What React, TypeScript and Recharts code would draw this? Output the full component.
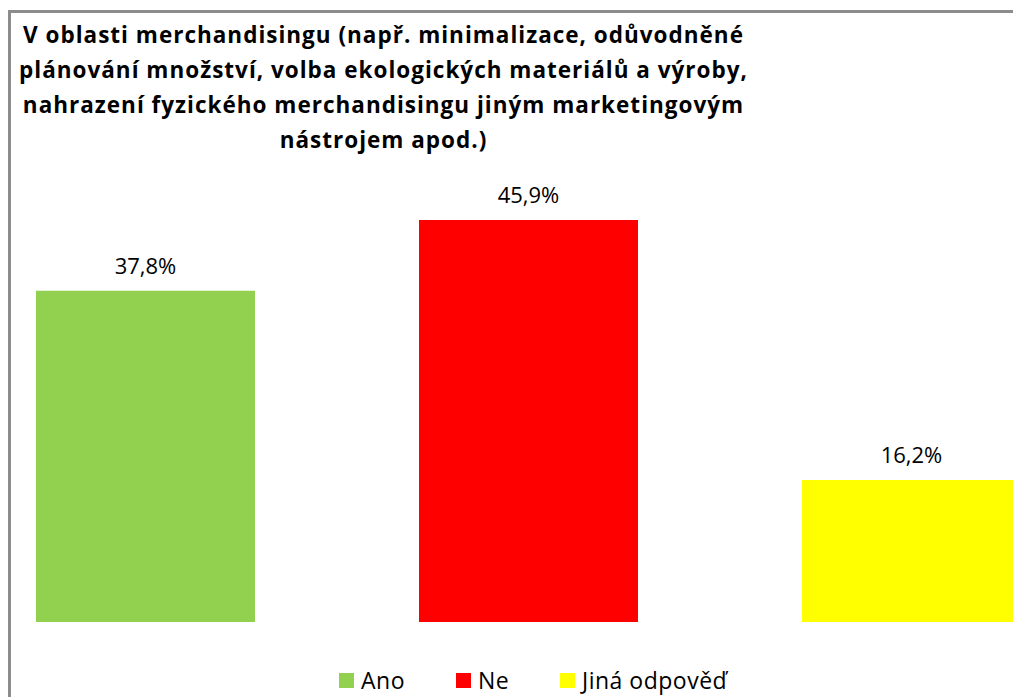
import { Bar, BarChart, Cell, LabelList, XAxis, YAxis } from "recharts";

const categories = ["Ano", "Ne", "Jiná odpověď"];
const shares = [37.8, 45.9, 16.2];
const colors = ["#92d050", "#ff0000", "#ffff00"];
const titleLines = [
  "V oblasti merchandisingu (např. minimalizace, odůvodněné",
  "plánování množství, volba ekologických materiálů a výroby,",
  "nahrazení fyzického merchandisingu jiným marketingovým",
  "nástrojem apod.)",
];

const data = categories.map((name, i) => ({ name, value: shares[i] }));

const font = "'Open Sans', 'Noto Sans', sans-serif";

export default function App() {
  return (
    <div
      style={{
        position: "fixed",
        left: 0,
        top: 0,
        width: 1013,
        height: 697,
        overflow: "hidden",
        background: "#fff",
        fontFamily: font,
      }}
    >
      <div
        style={{
          position: "absolute",
          left: 8,
          top: 10,
          width: 1200,
          height: 900,
          border: "3px solid #8c8c8c",
        }}
      />
      <div
        style={{
          position: "absolute",
          left: 0,
          top: 17,
          width: 767,
          textAlign: "center",
          fontWeight: 700,
          fontSize: 22.5,
          letterSpacing: 1,
          lineHeight: "35px",
          color: "#000",
          whiteSpace: "nowrap",
        }}
      >
        {titleLines.map((line) => (
          <div key={line}>{line}</div>
        ))}
      </div>
      <div style={{ position: "absolute", left: -46, top: 134 }}>
        <BarChart
          width={1149}
          height={488}
          data={data}
          margin={{ top: 50, right: 0, bottom: 0, left: 0 }}
          barCategoryGap={0}
        >
          <XAxis dataKey="name" hide />
          <YAxis hide domain={[0, 50]} />
          <Bar dataKey="value" barSize={219} isAnimationActive={false}>
            {data.map((d, i) => (
              <Cell key={d.name} fill={colors[i]} />
            ))}
            <LabelList
              dataKey="value"
              position="top"
              offset={17}
              formatter={(v: number) => v.toFixed(1).replace(".", ",") + "%"}
              style={{ fontFamily: font, fontSize: 22, fill: "#000" }}
            />
          </Bar>
        </BarChart>
      </div>
      {categories.map((name, i) => (
        <div
          key={name}
          style={{
            position: "absolute",
            left: [339, 456, 560][i],
            top: 664,
            height: 32,
            display: "flex",
            alignItems: "center",
            fontSize: 23,
            letterSpacing: 0.5,
            color: "#000",
            whiteSpace: "nowrap",
          }}
        >
          <span style={{ width: 15, height: 15, background: colors[i], marginRight: 7 }} />
          {name}
        </div>
      ))}
    </div>
  );
}
